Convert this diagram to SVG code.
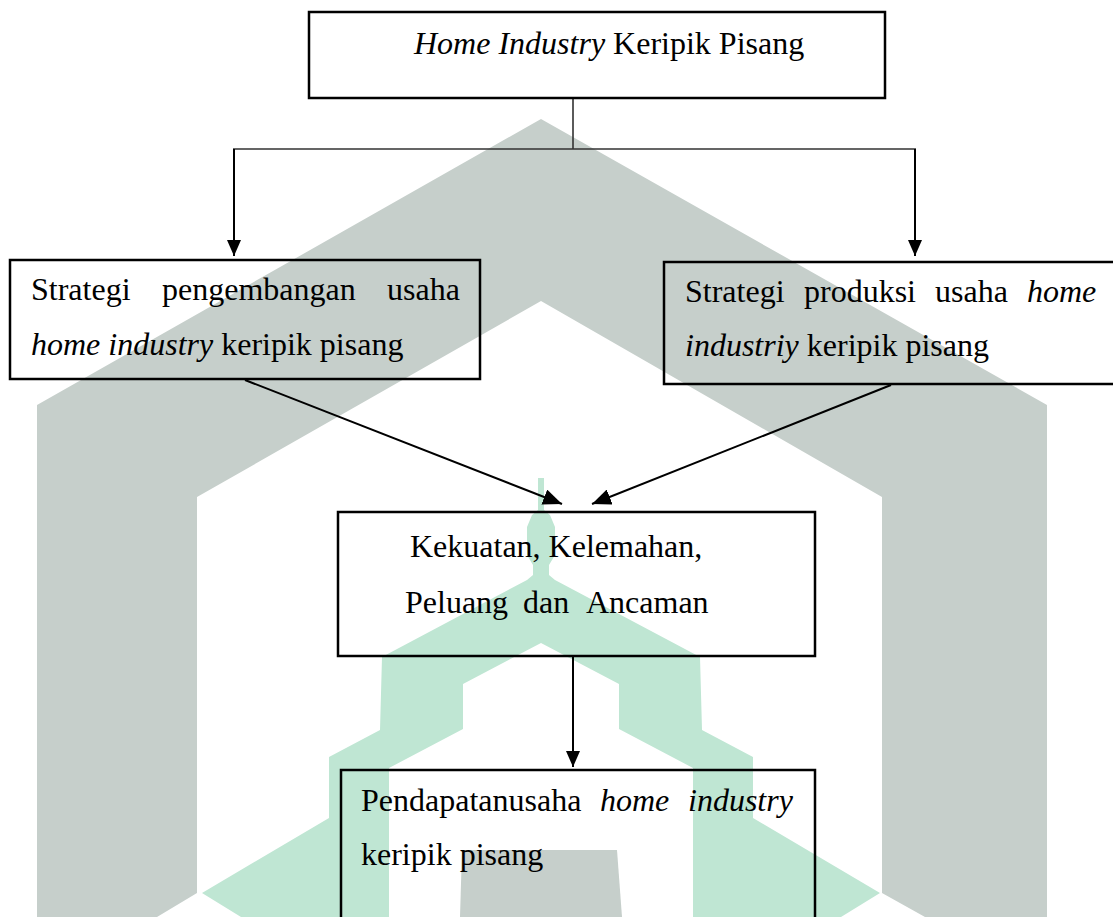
<svg xmlns="http://www.w3.org/2000/svg" width="1113" height="917" viewBox="0 0 1113 917">
<style>
.t{font-family:"Liberation Serif","Times New Roman",serif;font-size:32px;fill:#000}
.i{font-style:italic}
.box{fill:none;stroke:#000;stroke-width:2.5}
.ln{fill:none;stroke:#000;stroke-width:2}
.thin{fill:none;stroke:#333;stroke-width:1.6}
.wg{fill:#c6cfcb}
.wgr{fill:#bfe6d3}
</style>
<defs>
<marker id="ah" markerUnits="userSpaceOnUse" markerWidth="16" markerHeight="14" refX="16" refY="7" orient="auto">
<path d="M0,0 L16,7 L0,14 z" fill="#000"/>
</marker>
<marker id="ahd" markerUnits="userSpaceOnUse" markerWidth="19" markerHeight="16" refX="19" refY="8" orient="auto">
<path d="M0,0 L19,8 L0,16 z" fill="#000"/>
</marker>
</defs>
<rect width="1113" height="917" fill="#fff"/>
<g id="watermark">
<path class="wg" d="M541,119 L1047,405 L1047,917 L925,917 L882,893 L882,497 L541,301 L197,497 L197,893 L157,917 L37,917 L37,405 Z"/>
<path class="wgr" d="M538,478 L538,510 L532,515 L527,527 L527,555 L533,565 L533,575 L527,580 L382,657 L380,730 L329,757 L329,818 L202,893 L241,917 L389,917 L389,768 L463,729 L463,684 L541,643 L619,684 L619,729 L693,768 L693,917 L841,917 L880,893 L753,818 L753,757 L702,730 L700,657 L555,580 L549,575 L549,565 L555,555 L555,527 L550,515 L544,510 L544,478 Z"/>
<path class="wg" d="M462,850 L617,850 L622,917 L460,917 Z"/>
</g>
<g id="connectors">
<path class="thin" d="M573,98 L573,149 M233,149 L916,149"/>
<line class="ln" x1="234" y1="149" x2="234" y2="256" marker-end="url(#ah)"/>
<line class="ln" x1="915" y1="149" x2="915" y2="256" marker-end="url(#ah)"/>
<line class="ln" x1="245" y1="380" x2="562" y2="504" marker-end="url(#ahd)"/>
<line class="ln" x1="891" y1="385" x2="592" y2="504" marker-end="url(#ahd)"/>
<line class="ln" x1="573" y1="657" x2="573" y2="767" marker-end="url(#ah)"/>
</g>
<g id="node-top">
<rect class="box" x="309" y="12" width="576" height="86"/>
<text class="t" x="414" y="54"><tspan class="i">Home Industry</tspan> Keripik Pisang</text>
</g>
<g id="node-left">
<rect class="box" x="10" y="260" width="470" height="119"/>
<text class="t" y="300"><tspan x="31">Strategi</tspan><tspan x="162">pengembangan</tspan><tspan x="387">usaha</tspan></text>
<text class="t" x="31" y="355"><tspan class="i">home industry</tspan> keripik pisang</text>
</g>
<g id="node-right">
<rect class="box" x="664" y="262" width="460" height="122"/>
<text class="t" y="302"><tspan x="685">Strategi</tspan><tspan x="804">produksi</tspan><tspan x="935">usaha</tspan><tspan class="i" x="1027">home</tspan></text>
<text class="t" x="685" y="356"><tspan class="i">industriy</tspan> keripik pisang</text>
</g>
<g id="node-middle">
<rect class="box" x="338" y="512" width="477" height="144"/>
<text class="t" x="410" y="557">Kekuatan, Kelemahan,</text>
<text class="t" y="613"><tspan x="405">Peluang</tspan><tspan x="523">dan</tspan><tspan x="586">Ancaman</tspan></text>
</g>
<g id="node-bottom">
<rect class="box" x="341" y="770" width="474" height="170"/>
<text class="t" y="811"><tspan x="361">Pendapatanusaha</tspan><tspan class="i" x="600">home</tspan><tspan class="i" x="688">industry</tspan></text>
<text class="t" x="361" y="865">keripik pisang</text>
</g>
</svg>
